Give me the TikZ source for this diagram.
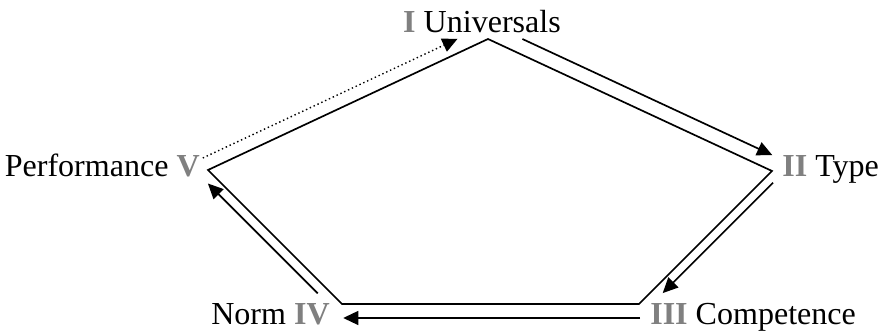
\documentclass[tikz,border=0pt]{standalone}
\usepackage{fontspec}
\setmainfont{Liberation Serif}
\usepackage{tikz}
\usetikzlibrary{calc,arrows.meta}

\newcommand{\rnum}[1]{\textbf{\textcolor{black!50}{#1}}}

\begin{document}
\begin{tikzpicture}[
  font=\fontsize{22.8}{26}\selectfont,
  edge/.style={line width=1.2pt, line join=miter},
  arr/.style={-{Triangle[length=3.8mm, width=3.5mm]}, line width=1.2pt},
  dotarr/.style={-{Triangle[length=3.8mm, width=3.5mm]}, line width=1pt, dotted},
  lbl/.style={inner sep=0pt, anchor=base},
]
\useasboundingbox (0,0) rectangle (22.05,8.325);

% --- Corners ---
\coordinate (univ) at (12.2,7.35);
\coordinate (type) at (19.3,4.05);
\coordinate (comp) at (15.975,0.725);
\coordinate (norm) at (8.55,0.725);
\coordinate (perf) at (5.2,4.075);

% --- Labels ---
\node[lbl] (lUniv) at (12.05,7.52) {\rnum{I} Universals};
\node[lbl, anchor=base west] (lType) at (19.55,3.9) {\rnum{II} Type};
\node[lbl, anchor=base west] (lComp) at (16.25,0.2) {\rnum{III} Competence};
\node[lbl, anchor=base east] (lNorm) at (8.25,0.2) {Norm \rnum{IV}};
\node[lbl, anchor=base east] (lPerf) at (5.0,3.9) {Performance \rnum{V}};

% --- Pentagon ---
\draw[edge] (univ) -- (type) -- (comp) -- (norm) -- (perf) -- cycle;

% --- Arrows ---
\draw[arr] ($(univ)!0.1!(type)+(0.15,0.33)$) -- ($(type)!0.02!(univ)+(0.15,0.33)$);
\draw[arr] ($(type)!0.04!(comp)+(0.16,-0.16)$) -- ($(comp)!0.13!(type)+(0.16,-0.16)$);
\draw[arr] ($(comp)+(0.03,-0.35)$) -- ($(norm)+(0.03,-0.35)$);
\draw[arr] ($(norm)!0.13!(perf)+(-0.17,-0.17)$) -- ($(perf)!0.05!(norm)+(-0.17,-0.17)$);
\draw[dotarr] ($(perf)+(-0.13,0.3)$) -- ($(univ)!0.09!(perf)+(-0.13,0.3)$);
\end{tikzpicture}
\end{document}
